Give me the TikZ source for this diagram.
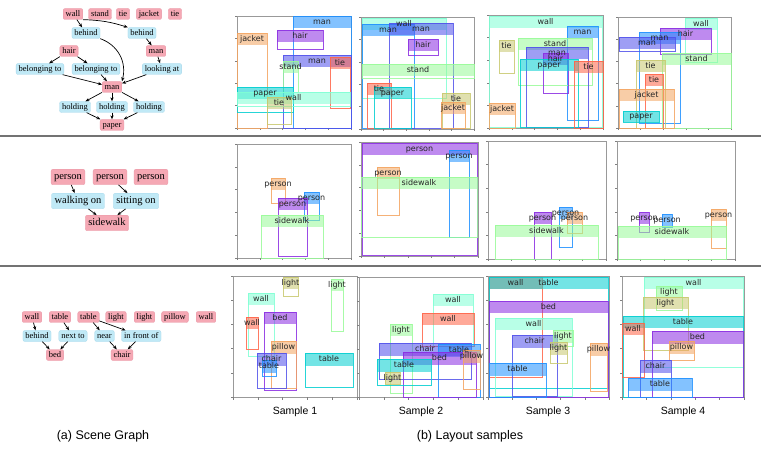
\documentclass[tikz,border=0pt]{standalone}
\usepackage{fontspec}
\setmainfont{Liberation Serif}
\newfontfamily\lblfont{DejaVu Sans}
\newfontfamily\capfont{Liberation Sans}
\usetikzlibrary{arrows.meta}
\pgfdeclarelayer{fg}
\pgfsetlayers{main,fg}
\definecolor{cAqua}{RGB}{127,255,212}
\definecolor{cPale}{RGB}{152,251,152}
\definecolor{cTom}{RGB}{255,99,71}
\definecolor{cTurq}{RGB}{0,206,209}
\definecolor{cPurp}{RGB}{138,43,226}
\definecolor{cSky}{RGB}{30,144,255}
\definecolor{cSlate}{RGB}{80,80,235}
\definecolor{cOrg}{RGB}{244,164,96}
\definecolor{cKhaki}{RGB}{200,200,110}
\definecolor{objfill}{RGB}{245,168,180}
\definecolor{objdraw}{RGB}{232,150,165}
\definecolor{relfill}{RGB}{192,233,246}
\definecolor{reldraw}{RGB}{165,215,235}
\tikzset{
  obj/.style={draw=objdraw, fill=objfill, rounded corners=2pt, line width=0.3pt,
    font=\fontsize{8.5}{9}\selectfont, inner xsep=2.5pt, inner ysep=0pt,
    minimum height=11pt, text height=6pt, text depth=1.8pt},
  rel/.style={obj, draw=reldraw, fill=relfill},
  objb/.style={obj, font=\fontsize{10.5}{12}\selectfont, inner xsep=3pt,
    minimum height=15.5pt, text height=7.3pt, text depth=2.2pt},
  relb/.style={objb, draw=reldraw, fill=relfill},
  arr/.style={-{Stealth[length=4pt,width=3.2pt]}, line width=0.7pt, black},
  lbl/.style={font=\lblfont\fontsize{8}{9}\selectfont, text=black!85, inner sep=0pt,
    text height=5.8pt, text depth=1.6pt},
  frm/.style={draw=black!40, line width=0.8pt},
  tck/.style={draw=black!50, line width=0.5pt},
  sepline/.style={draw=black!55, line width=1.6pt},
  samp/.style={font=\capfont\fontsize{10.5}{12}\selectfont},
  capt/.style={font=\capfont\fontsize{12.5}{14}\selectfont},
}
\newcommand\objbox[6]{%
  \pgfmathsetmacro\bbot{min(#2+12.5,#4)}%
  \fill[#5, fill opacity=0.55] (#1,#2) rectangle (#3,\bbot);
  \draw[#5, draw opacity=0.85, line width=0.8pt] (#1,#2) rectangle (#3,#4);
  \begin{pgfonlayer}{fg}
  \node[lbl] at ({(#1+#3)/2},{(#2+\bbot)/2}) {#6};
  \end{pgfonlayer}
}
\newcommand\panelframe[4]{%
  \draw[frm] (#1,#2) rectangle (#3,#4);
  \foreach \i in {0,...,5}{
    \draw[tck] ({#1+\i*(#3-#1)/5},#4) -- ++(0,2.5);
    \draw[tck] (#1,{#4-\i*(#4-#2)/5}) -- ++(-2.5,0);
  }}
\begin{document}
\begin{tikzpicture}[x=1pt,y=-1pt]
\useasboundingbox (0,0) rectangle (761,449);
\fill[white] (0,0) rectangle (761,449);
% separators
\draw[sepline] (0,136) -- (761,136);
\draw[sepline] (0,266) -- (761,266);

% ---------- scene graph 1 ----------
\node[obj] (w1) at (73,14) {wall};
\node[obj] (st1) at (100,14) {stand};
\node[obj] (t1) at (123,14) {tie};
\node[obj] (j1) at (149,14) {jacket};
\node[obj] (t2) at (175,14) {tie};
\node[rel] (bh1) at (86,33) {behind};
\node[rel] (bh2) at (142,33) {behind};
\node[obj] (h1) at (69,51) {hair};
\node[obj] (m1) at (156,51) {man};
\node[rel] (bl1) at (40,69) {belonging to};
\node[rel] (bl2) at (96,69) {belonging to};
\node[rel] (la) at (162,69) {looking at};
\node[obj] (m2) at (112,87) {man};
\node[rel] (ho1) at (75,107) {holding};
\node[rel] (ho2) at (112,107) {holding};
\node[rel] (ho3) at (149,107) {holding};
\node[obj] (p1) at (112,125) {paper};
\draw[arr] (w1) -- (bh1);
\draw[arr] (w1.south east) to[bend left=8] (bh2.north west);
\draw[arr] (bh1.south east) .. controls (118,45) and (127,62) .. (m2.north east);
\draw[arr] (bh2) -- (m1);
\draw[arr] (m1) -- (la);
\draw[arr] (h1) -- (bl1);
\draw[arr] (h1) -- (bl2);
\draw[arr] (bl1) -- (m2);
\draw[arr] (bl2) -- (m2);
\draw[arr] (la) -- (m2);
\draw[arr] (m2) -- (ho1);
\draw[arr] (m2) -- (ho2);
\draw[arr] (m2) -- (ho3);
\draw[arr] (ho1) -- (p1);
\draw[arr] (ho2) -- (p1);
\draw[arr] (ho3) -- (p1);

% ---------- scene graph 2 ----------
\node[objb] (pa) at (68,177) {person};
\node[objb] (pb) at (110,177) {person};
\node[objb] (pc) at (151,177) {person};
\node[relb] (wo) at (78,201) {walking on};
\node[relb] (so) at (136,201) {sitting on};
\node[objb] (sw) at (107,223) {sidewalk};
\draw[arr] (pa) -- (wo);
\draw[arr] (pb) -- (so);
\draw[arr] (wo) -- (sw);
\draw[arr] (so) -- (sw);

% ---------- scene graph 3 ----------
\node[obj] (wa) at (32,317) {wall};
\node[obj] (ta) at (60,317) {table};
\node[obj] (tb) at (88.5,317) {table};
\node[obj] (lg1) at (116,317) {light};
\node[obj] (lg2) at (144.5,317) {light};
\node[obj] (pi) at (175,317) {pillow};
\node[obj] (wb) at (206,317) {wall};
\node[rel] (be) at (37,336) {behind};
\node[rel] (nt) at (73,336) {next to};
\node[rel] (ne) at (104.5,336) {near};
\node[rel] (ifo) at (141.3,336) {in front of};
\node[obj] (bd) at (55,355) {bed};
\node[obj] (ch) at (122,355) {chair};
\draw[arr] (wa) -- (be);
\draw[arr] (ta) -- (nt);
\draw[arr] (be) -- (bd);
\draw[arr] (nt) -- (bd);
\draw[arr] (tb) -- (ne);
\draw[arr] (tb) -- (ifo);
\draw[arr] (ne) -- (ch);
\draw[arr] (ifo) -- (ch);

% ---------- row 1 layouts ----------
\panelframe{237}{16}{351}{128}
\objbox{293}{16}{351}{128}{cSky}{man}
\objbox{277}{30}{323}{49}{cPurp}{hair}
\objbox{237}{33}{267}{128}{cOrg}{jacket}
\objbox{283}{55}{351}{128}{cSlate}{man}
\objbox{330}{57}{350}{108}{cTom}{tie}
\objbox{283}{61}{298}{92}{cPale}{stand}
\objbox{237}{87}{293}{112}{cTurq}{paper}
\objbox{237}{92}{350}{106}{cAqua}{wall}
\objbox{267}{97}{291}{124}{cKhaki}{tie}

\panelframe{361}{17}{474}{129}
\objbox{362}{18}{446}{98}{cAqua}{wall}
\objbox{362}{24}{414}{128}{cSky}{man}
\objbox{389}{23}{453}{128}{cSlate}{man}
\objbox{408}{39}{438}{55}{cPurp}{hair}
\objbox{362}{64}{474}{78}{cPale}{stand}
\objbox{367}{83}{391}{128}{cTom}{tie}
\objbox{374}{87}{411}{128}{cTurq}{paper}
\objbox{442}{93}{470}{128}{cKhaki}{tie}
\objbox{441}{102}{465}{128}{cOrg}{jacket}

\panelframe{489}{15}{603}{128}
\objbox{489}{16}{602}{127}{cAqua}{wall}
\objbox{567}{26}{598}{120}{cSky}{man}
\objbox{499}{40}{514}{73}{cKhaki}{tie}
\objbox{518}{38}{592}{85}{cPale}{stand}
\objbox{526}{47}{588}{127}{cSlate}{man}
\objbox{543}{53}{568}{93}{cPurp}{hair}
\objbox{520}{59}{578}{127}{cTurq}{paper}
\objbox{574}{61}{603}{128}{cTom}{tie}
\objbox{489}{103}{515}{128}{cOrg}{jacket}

\panelframe{618}{17}{731}{128}
\objbox{685}{18}{717}{62}{cAqua}{wall}
\objbox{660}{28}{711}{54}{cPurp}{hair}
\objbox{639}{32}{680}{123}{cSky}{man}
\objbox{619}{37}{675}{51}{cSlate}{man}
\objbox{662}{53}{731}{128}{cPale}{stand}
\objbox{636}{60}{665}{128}{cKhaki}{tie}
\objbox{645}{74}{663}{128}{cTom}{tie}
\objbox{619}{89}{674}{128}{cOrg}{jacket}
\objbox{623}{111}{659}{122}{cTurq}{paper}

% ---------- row 2 layouts ----------
\panelframe{237}{144}{351}{258}
\objbox{271}{178}{285}{203}{cOrg}{person}
\objbox{304}{192}{319}{220}{cSky}{person}
\objbox{278}{198}{307}{256}{cPurp}{person}
\objbox{261}{215}{323}{258}{cPale}{sidewalk}

\panelframe{361}{142}{478}{256}
\objbox{362}{143}{477}{255}{cPurp}{person}
\objbox{449}{150}{469}{237}{cSky}{person}
\objbox{377}{167}{399}{215}{cOrg}{person}
\objbox{361}{177}{477}{237}{cPale}{sidewalk}

\panelframe{488}{141}{606}{259}
\objbox{534}{212}{551}{259}{cPurp}{person}
\objbox{559}{207}{572}{247}{cSky}{person}
\objbox{567}{212}{582}{233}{cOrg}{person}
\objbox{495}{225}{598}{259}{cPale}{sidewalk}

\panelframe{617}{141}{735}{259}
\objbox{639}{212}{649}{232}{cPurp}{person}
\objbox{662}{214}{672}{227}{cSky}{person}
\objbox{711}{209}{726}{248}{cOrg}{person}
\objbox{618}{226}{726}{259}{cPale}{sidewalk}

% ---------- row 3 layouts ----------
\panelframe{233}{276}{357}{397}
\objbox{283}{277}{298}{296}{cKhaki}{light}
\objbox{331}{279}{343}{331}{cPale}{light}
\objbox{248}{293}{274}{356}{cAqua}{wall}
\objbox{246}{317}{258}{349}{cTom}{wall}
\objbox{264}{312}{296}{390}{cPurp}{bed}
\objbox{271}{341}{296}{388}{cOrg}{pillow}
\objbox{257}{353}{286}{388}{cSlate}{chair}
\objbox{262}{360}{276}{376}{cSky}{table}
\objbox{305}{353}{353}{387}{cTurq}{table}

\panelframe{359}{277}{483}{397}
\objbox{433}{294}{473}{346}{cAqua}{wall}
\objbox{422}{313}{474}{346}{cTom}{wall}
\objbox{390}{324}{412}{393}{cPale}{light}
\objbox{379}{343}{471}{379}{cSlate}{chair}
\objbox{438}{344}{480}{397}{cSky}{table}
\objbox{403}{352}{476}{397}{cPurp}{bed}
\objbox{463}{350}{480}{389}{cOrg}{pillow}
\objbox{377}{359}{431}{385}{cTurq}{table}
\objbox{385}{372}{400}{384}{cKhaki}{light}

\panelframe{488}{276}{609}{397}
\objbox{489}{277}{542}{377}{cTom}{wall}
\objbox{489}{277}{608}{388}{cTurq}{table}
\objbox{489}{301}{608}{397}{cPurp}{bed}
\objbox{495}{318}{572}{396}{cAqua}{wall}
\objbox{512}{335}{557}{396}{cSlate}{chair}
\objbox{553}{330}{573}{346}{cPale}{light}
\objbox{550}{342}{567}{363}{cKhaki}{light}
\objbox{590}{343}{607}{391}{cOrg}{pillow}
\objbox{489}{363}{546}{397}{cSky}{table}

\panelframe{622}{276}{744}{397}
\objbox{644}{277}{743}{367}{cAqua}{wall}
\objbox{656}{286}{682}{310}{cPale}{light}
\objbox{643}{297}{688}{350}{cKhaki}{light}
\objbox{623}{316}{743}{397}{cTurq}{table}
\objbox{622}{323}{644}{377}{cTom}{wall}
\objbox{652}{331}{743}{397}{cPurp}{bed}
\objbox{669}{341}{694}{360}{cOrg}{pillow}
\objbox{640}{360}{671}{397}{cSlate}{chair}
\objbox{628}{378}{692}{397}{cSky}{table}

% ---------- captions ----------
\node[samp] (s1) at (295,412) {Sample 1};
\node[samp] (s2) at (421,412) {Sample 2};
\node[samp] (s3) at (548,412) {Sample 3};
\node[samp] (s4) at (683,412) {Sample 4};
\node[capt] (ca) at (103,436) {(a) Scene Graph};
\node[capt] (cb) at (470,436) {(b) Layout samples};
\end{tikzpicture}
\end{document}
